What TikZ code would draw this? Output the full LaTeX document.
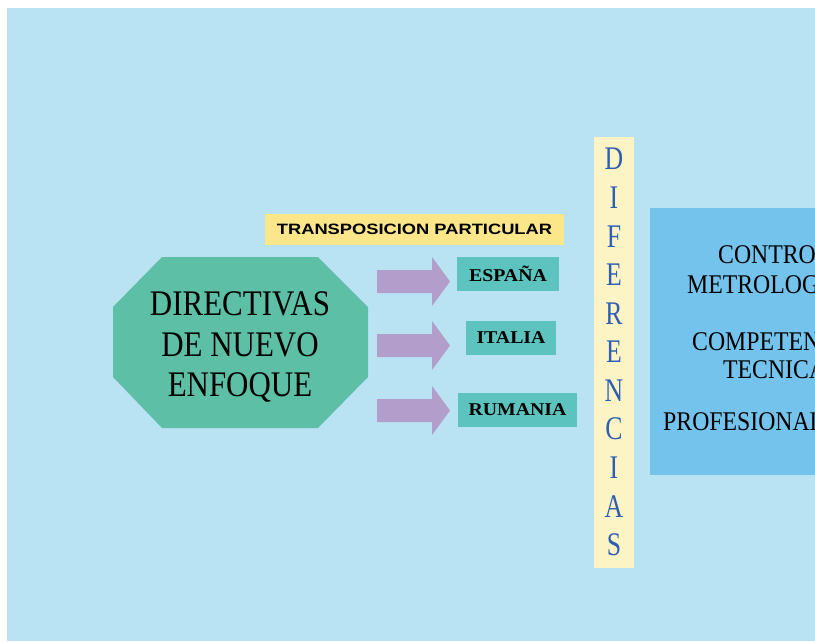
\documentclass[tikz,border=0pt]{standalone}
\usepackage{fontspec}
\setmainfont{Liberation Serif}
\newfontfamily\lsans{Liberation Sans}
\definecolor{bgblue}{HTML}{B9E3F2}
\definecolor{octgreen}{HTML}{5CBFA6}
\definecolor{boxteal}{HTML}{5CC3BE}
\definecolor{labyellow}{HTML}{FBE68A}
\definecolor{stripcream}{HTML}{FDF4C6}
\definecolor{rightblue}{HTML}{74C3EC}
\definecolor{arrpurple}{HTML}{B39DCB}
\definecolor{letblue}{HTML}{2F5FB3}
\tikzset{
  bigtxt/.style={anchor=base, inner sep=0pt, font=\fontsize{36}{40}\selectfont},
  country/.style={fill=boxteal, draw=none, rectangle, inner sep=0pt, minimum height=34pt, font=\fontsize{18}{20}\selectfont\bfseries},
  blockarrow/.style={fill=arrpurple, draw=none},
  diflet/.style={inner sep=0pt, text=letblue, font=\fontsize{33}{36}\selectfont},
  righttxt/.style={anchor=base west, inner sep=0pt, font=\fontsize{27}{30}\selectfont}
}
\begin{document}
\begin{tikzpicture}[x=1pt,y=-1pt]
\useasboundingbox (0,0) rectangle (815,641);
\fill[white] (0,0) rectangle (815,641);
\fill[bgblue] (7,8) rectangle (815,641);
% octagon
\fill[octgreen] (113,307) -- (162,257) -- (318,257) -- (368,307) -- (368,377) -- (318,428) -- (162,428) -- (113,377) -- cycle;
\node[bigtxt] (dir1) at (240,315) {\scalebox{0.86}[1]{DIRECTIVAS}};
\node[bigtxt] (dir2) at (240,356) {\scalebox{0.86}[1]{DE NUEVO}};
\node[bigtxt] (dir3) at (240,396) {\scalebox{0.86}[1]{ENFOQUE}};
% yellow label
\node[fill=labyellow, inner sep=0pt, minimum width=299pt, minimum height=31pt, font=\lsans\fontsize{15}{17}\selectfont\bfseries] (trans) at (414.5,229.5) {\scalebox{1.22}[1]{TRANSPOSICION PARTICULAR}};
% arrows
\foreach \yc in {281.5,345.5,410.5}{
  \fill[blockarrow] (377,\yc-11.5) -- (432,\yc-11.5) -- (432,\yc-24.5) -- (450,\yc) -- (432,\yc+24.5) -- (432,\yc+11.5) -- (377,\yc+11.5) -- cycle;
}
% country boxes
\node[country, minimum width=102pt] (esp) at (508,274) {\scalebox{1.1}[1]{ESPAÑA}};
\node[country, minimum width=90pt] (ita) at (511,338) {\scalebox{1.1}[1]{ITALIA}};
\node[country, minimum width=119pt] (rum) at (517.5,410) {\scalebox{1.1}[1]{RUMANIA}};
% DIFERENCIAS strip
\node[fill=stripcream, inner sep=0pt, minimum width=40pt, minimum height=431pt] (dif) at (614,352.5) {};
\foreach \l [count=\i from 0] in {D,I,F,E,R,E,N,C,I,A,S}{
  \node[diflet] (dl\i) at (614,159+38.6*\i) {\scalebox{0.78}[1]{\l}};
}
% right box
\fill[rightblue] (650,208) rectangle (815,475);
\node[righttxt] (r1) at (718,263) {\scalebox{0.88}[1]{CONTRO}};
\node[righttxt] (r2) at (687,293) {\scalebox{0.88}[1]{METROLOG}};
\node[righttxt] (r3) at (692,350) {\scalebox{0.88}[1]{COMPETEN}};
\node[righttxt] (r4) at (723,378) {\scalebox{0.88}[1]{TECNICA}};
\node[righttxt] (r5) at (663,430) {\scalebox{0.88}[1]{PROFESIONAL}};
\end{tikzpicture}
\end{document}
